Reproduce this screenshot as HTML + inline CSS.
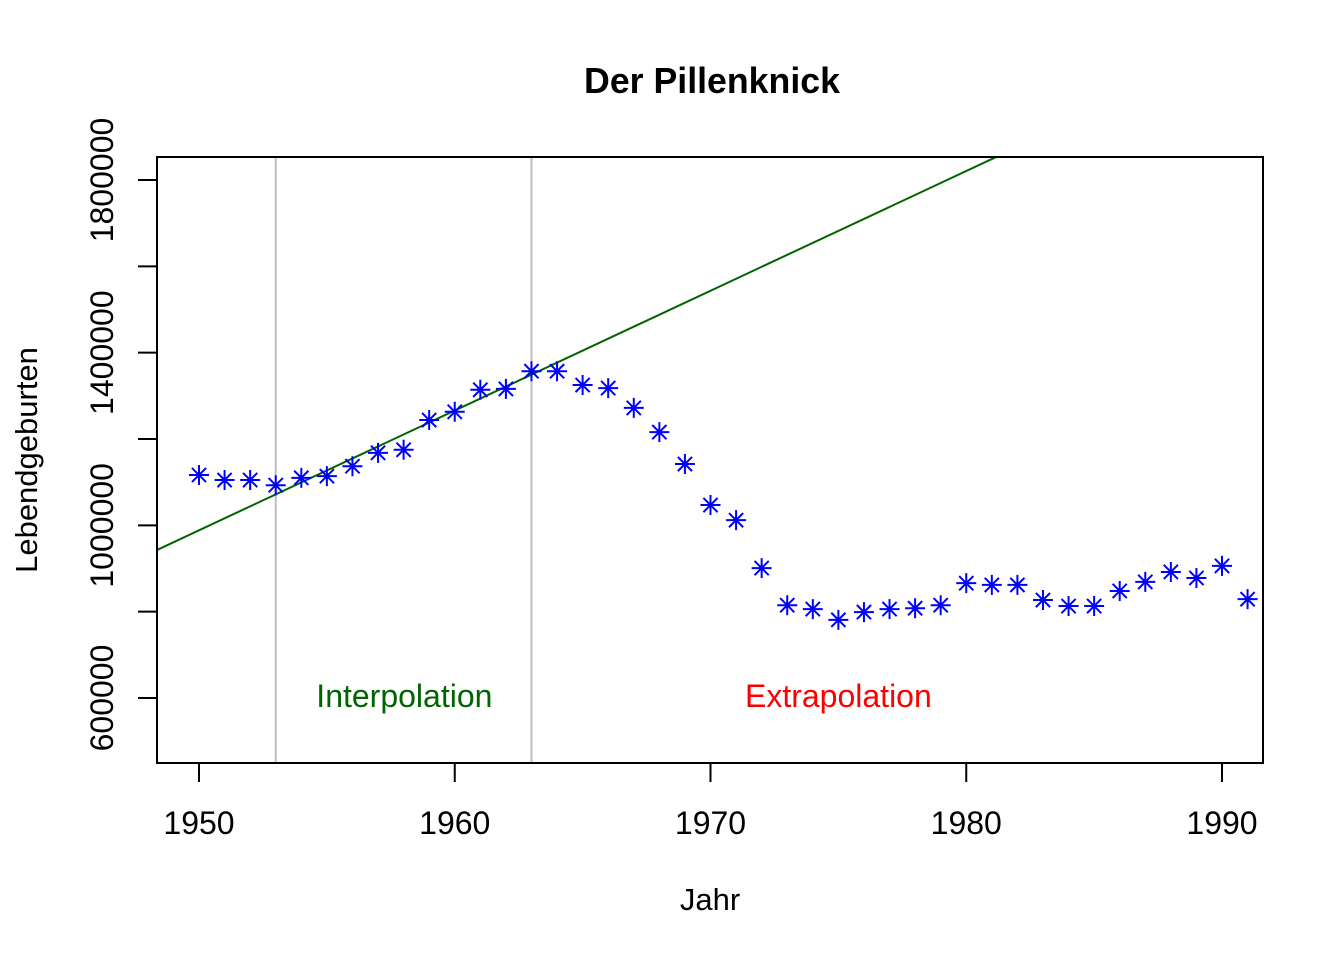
<!DOCTYPE html>
<html><head><meta charset="utf-8"><style>
body{margin:0;background:#fff}
svg text{font-family:"Liberation Sans",Arial,sans-serif}
</style></head><body>
<svg id="chart" width="1344" height="960" xmlns="http://www.w3.org/2000/svg">
<text x="712" y="93" font-size="35.7" font-weight="bold" text-anchor="middle">Der Pillenknick</text>
<text x="710" y="910" font-size="31" text-anchor="middle">Jahr</text>
<text transform="translate(37,460) rotate(-90)" font-size="31" text-anchor="middle">Lebendgeburten</text>
<g id="plot"></g>
</svg>
<script>
const years=[1950,1951,1952,1953,1954,1955,1956,1957,1958,1959,1960,1961,1962,1963,1964,1965,1966,1967,1968,1969,1970,1971,1972,1973,1974,1975,1976,1977,1978,1979,1980,1981,1982,1983,1984,1985,1986,1987,1988,1989,1990,1991];
const births=[1116600,1105000,1105000,1093000,1110000,1114000,1137000,1168000,1175000,1244000,1263000,1314000,1316000,1357000,1357000,1325000,1318000,1272000,1216000,1142000,1047000,1012000,901000,815000,806000,781000,799000,806000,808000,815000,866000,862000,862000,827000,813000,813000,848000,869000,892000,878000,906000,829000];
const xTicks=[1950,1960,1970,1980,1990];
const yTicks=[600000,800000,1000000,1200000,1400000,1600000,1800000];
const yLabels=["600000","","1000000","","1400000","","1800000"];
const fitIntercept1950=988500, fitSlope=27744;
const interpYears=[1953,1963];
const x=v=>199+(v-1950)*(1222-199)/40;
const y=v=>180+(1800000-v)*518/1200000;
const L=157,R=1263,T=157,B=763;
const NS="http://www.w3.org/2000/svg";
const g=document.getElementById('plot');
function el(t,a){const e=document.createElementNS(NS,t);for(const k in a)e.setAttribute(k,a[k]);g.appendChild(e);return e;}
interpYears.forEach(yr=>{const e=el('line',{x1:x(yr),x2:x(yr),y1:T,y2:B,stroke:'#bebebe','stroke-width':2});

});
const cp=el('clipPath',{id:'clip'});const r=document.createElementNS(NS,'rect');r.setAttribute('x',L);r.setAttribute('y',T);r.setAttribute('width',R-L);r.setAttribute('height',B-T);cp.appendChild(r);
const fy=yr=>fitIntercept1950+fitSlope*(yr-1950);
const fl=el('line',{x1:x(1940),y1:y(fy(1940)),x2:x(2000),y2:y(fy(2000)),stroke:'#006400','stroke-width':2,'clip-path':'url(#clip)'});


years.forEach((yr,i)=>{const cx=x(yr),cy=y(births[i]),s=10,d=7.1;
const p=el('path',{d:`M${cx-s},${cy}H${cx+s}M${cx},${cy-s}V${cy+s}M${cx-d},${cy-d}L${cx+d},${cy+d}M${cx-d},${cy+d}L${cx+d},${cy-d}`,stroke:'#0000ff','stroke-width':2,fill:'none'});

});
const bx=el('rect',{x:L,y:T,width:R-L,height:B-T,fill:'none',stroke:'#000','stroke-width':2});


xTicks.forEach(t=>{const l=el('line',{x1:x(t),x2:x(t),y1:B,y2:B+19,stroke:'#000','stroke-width':2});


const tx=el('text',{x:x(t),y:834,'font-size':32,'text-anchor':'middle'});tx.textContent=t;

});
yTicks.forEach((t,i)=>{const l=el('line',{x1:L-19,x2:L,y1:y(t),y2:y(t),stroke:'#000','stroke-width':2});


if(yLabels[i]){const tx=el('text',{transform:`translate(113,${y(t)}) rotate(-90)`,'font-size':32,'text-anchor':'middle'});tx.textContent=yLabels[i];

}});
const t1=el('text',{x:x(1958.03),y:y(605000)+11,'font-size':32,'text-anchor':'middle',fill:'#006400'});t1.textContent='Interpolation';


const t2=el('text',{x:x(1975),y:y(605000)+11,'font-size':32,'text-anchor':'middle',fill:'#ff0000'});t2.textContent='Extrapolation';


</script>
</body></html>
